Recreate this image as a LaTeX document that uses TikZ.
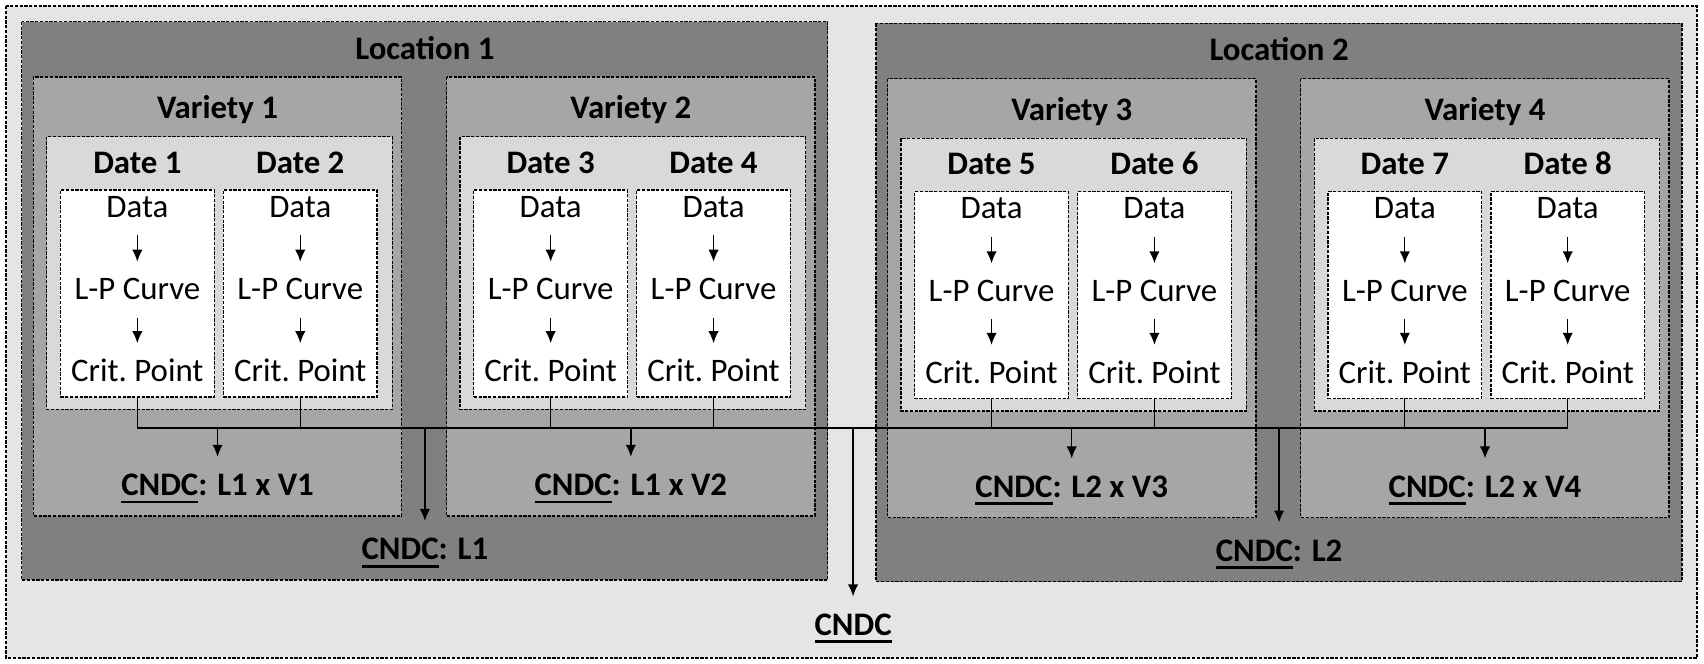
\documentclass[tikz,border=0pt]{standalone}
\usepackage{fontspec}
\setmainfont{Carlito}
\usepackage{xcolor}
\usepackage{tikz}
\usetikzlibrary{arrows.meta,positioning,calc}
\newcommand{\CNDC}{\setbox0\hbox{CNDC}\rlap{\rule[-2.05pt]{\wd0}{0.7pt}}\box0}

\begin{document}
\begin{tikzpicture}[x=0.1mm,y=-0.1mm,font=\fontsize{8.6}{10}\selectfont,
  zone/.style={draw,line width=0.35pt,dash pattern=on 0.85pt off 0.4pt},
  ttl/.style={font=\fontsize{8.6}{10}\selectfont\bfseries,anchor=base,inner sep=0pt},
  stage/.style={anchor=base,text height=1.9mm,text depth=0pt,inner xsep=0pt,inner ysep=1.55mm},
  res/.style={font=\fontsize{8.6}{10}\selectfont\bfseries,anchor=base,text height=1.9mm,text depth=0pt,inner xsep=0pt,inner ysep=1.6mm},
  wbox/.style={zone,fill=white,minimum width=14.15mm,minimum height=19.05mm,inner sep=0pt},
  arr/.style={line width=0.35pt,-{Latex[length=1.1mm,width=0.95mm]}}]
  \useasboundingbox (0,0) rectangle (1568,611);
  \draw[zone,fill=black!10] (5.5,5.5) rectangle (1561.5,605.5);
  \coordinate (bus) at (0,394);
  % locations, varieties, dates
  \foreach \lc/\lx/\ly in {1/0/0,2/786/1.5} {
    \begin{scope}[shift={(\lx,\ly)}]
      \draw[zone,fill=black!50] (20,20) rectangle (761.6,533.7);
      \node[ttl] (loc\lc) at (391,54.5) {Location \lc};
      \node[res] (cl\lc) at (391,515) {\CNDC: L\lc};
      \foreach \vk/\vx in {1/0,2/380.3} {
        \pgfmathtruncatemacro{\vr}{2*\lc+\vk-2}
        \begin{scope}[shift={(\vx,0)}]
          \draw[zone,fill=black!35] (30.7,71) rectangle (369.6,474.8);
          \node[ttl] (var\vr) at (200.2,109) {Variety \vr};
          \draw[zone,fill=black!15] (43,125.8) rectangle (361,376.7);
          \node[res] (cv\vr) at (200.2,456) {\CNDC: L\lc{} x V\vr};
          \foreach \dk/\dx in {1/126.4,2/276.3} {
            \pgfmathtruncatemacro{\dd}{2*\vr+\dk-2}
            \node[ttl] (date\dd) at (\dx,159.5) {Date \dd};
            \node[wbox] (w\dd) at (\dx,270) {};
            \node[stage] (data\dd) at (\dx,200) {Data};
            \node[stage] (lp\dd) at (\dx,276) {L-P Curve};
            \node[stage] (cp\dd) at (\dx,351) {Crit.\ Point};
            \draw[arr] (data\dd) -- (lp\dd);
            \draw[arr] (lp\dd) -- (cp\dd);
          }
        \end{scope}
      }
    \end{scope}
  }
  % connectors
  \foreach \dd in {1,...,8} {\draw[line width=0.35pt] (w\dd.south) -- (w\dd.south |- bus);}
  \draw[line width=0.55pt] (w1.south |- bus) -- (w8.south |- bus);
  \foreach \vr in {1,...,4} {\draw[arr] (cv\vr.north |- bus) -- (cv\vr.north);}
  \foreach \lc in {1,2} {\draw[arr] (cl\lc.north |- bus) -- (cl\lc.north);}
  \node[res] (cndc) at (785,584.5) {\CNDC};
  \draw[arr] (cndc.north |- bus) -- (cndc.north);
\end{tikzpicture}
\end{document}
